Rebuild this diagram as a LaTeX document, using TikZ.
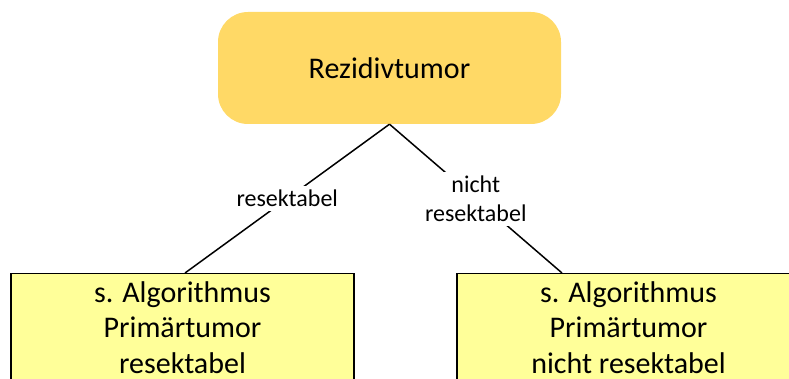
\documentclass[tikz,border=0pt]{standalone}
\usepackage{fontspec}
\setmainfont{Carlito}
\definecolor{tumorgold}{HTML}{FFD966}
\definecolor{boxyellow}{HTML}{FFFF99}
\begin{document}
\begin{tikzpicture}[x=1pt,y=-1pt,
    rezidiv/.style={fill=tumorgold,rounded corners=30pt,minimum width=343pt,minimum height=112pt,font=\fontsize{30}{36}\selectfont},
    algo/.style={draw,line width=1.2pt,fill=boxyellow,minimum width=343pt,minimum height=108pt,anchor=north,align=center,font=\fontsize{30}{35.5}\selectfont},
    zweig/.style={fill=white,align=center,inner sep=4pt,font=\fontsize{24}{29}\selectfont}]
      \useasboundingbox (0,0) rectangle (789,379);
      \clip (0,0) rectangle (789,379);
      \node[rezidiv] (rez) at (389.5,68) {Rezidivtumor};
      \node[algo] (res) at (182.5,273) {s. Algorithmus\\Primärtumor\\resektabel};
      \node[algo] (nres) at (628.5,273) {s. Algorithmus\\Primärtumor\\nicht resektabel};
      \coordinate (resEnd) at ([xshift=2.5pt]res.north);
      \coordinate (nresEnd) at ([xshift=-66.5pt]nres.north);
      \draw[line width=1.5pt] (rez.south) -- node[zweig] {resektabel} (resEnd);
      \draw[line width=1.5pt] (rez.south) -- node[zweig] {nicht\\resektabel} (nresEnd);
\end{tikzpicture}
\end{document}
